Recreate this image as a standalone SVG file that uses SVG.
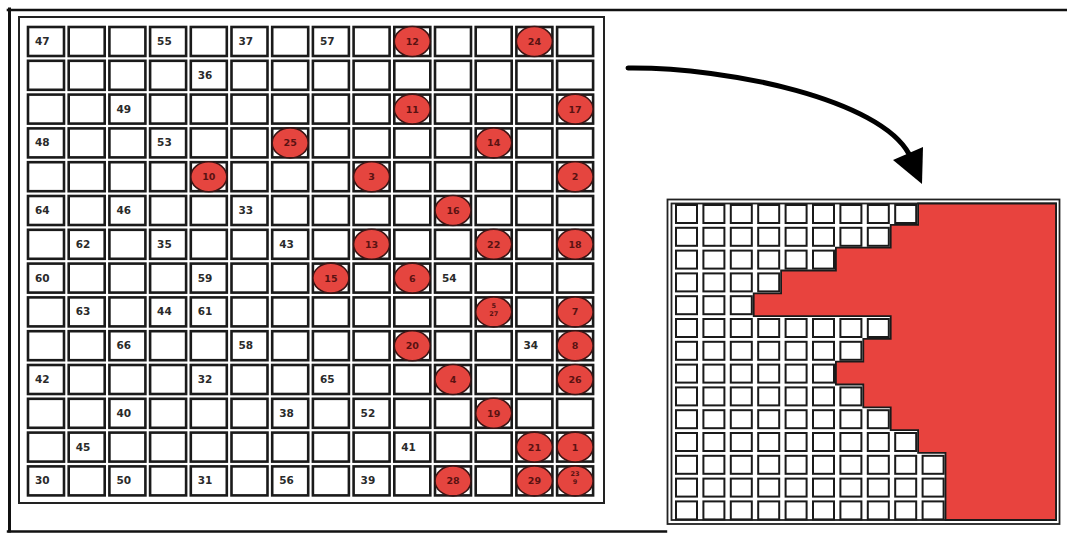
<svg xmlns="http://www.w3.org/2000/svg" xmlns:xlink="http://www.w3.org/1999/xlink" width="1067" height="533" viewBox="0 0 1067 533">
<style>
.frame{fill:none;stroke:#111;stroke-linecap:square}
.cell{fill:#fff;stroke:#1a1a1a;stroke-width:2.6}
.scell{fill:#fff;stroke:#1a1a1a;stroke-width:2}
.dot{fill:#e5453f;stroke:#3a1414;stroke-width:1.6}
.lab{font-family:"DejaVu Sans",sans-serif;font-weight:bold;font-size:10.5px;fill:#2a2a2a}
.dlab{font-family:"DejaVu Sans",sans-serif;font-weight:bold;font-size:9.5px;fill:#5a1212;text-anchor:middle;dominant-baseline:central}
.tiny{font-size:6.5px}
</style>
<defs>
<g id="lrow">
<rect class="cell" x="28" y="0" width="36" height="29"/>
<rect class="cell" x="68.7" y="0" width="36" height="29"/>
<rect class="cell" x="109.4" y="0" width="36" height="29"/>
<rect class="cell" x="150.1" y="0" width="36" height="29"/>
<rect class="cell" x="190.8" y="0" width="36" height="29"/>
<rect class="cell" x="231.5" y="0" width="36" height="29"/>
<rect class="cell" x="272.2" y="0" width="36" height="29"/>
<rect class="cell" x="312.9" y="0" width="36" height="29"/>
<rect class="cell" x="353.6" y="0" width="36" height="29"/>
<rect class="cell" x="394.3" y="0" width="36" height="29"/>
<rect class="cell" x="435" y="0" width="36" height="29"/>
<rect class="cell" x="475.7" y="0" width="36" height="29"/>
<rect class="cell" x="516.4" y="0" width="36" height="29"/>
<rect class="cell" x="557.1" y="0" width="36" height="29"/>
</g>
<g id="rrow">
<rect class="scell" x="676" y="0" width="21" height="18"/>
<rect class="scell" x="703.4" y="0" width="21" height="18"/>
<rect class="scell" x="730.8" y="0" width="21" height="18"/>
<rect class="scell" x="758.2" y="0" width="21" height="18"/>
<rect class="scell" x="785.6" y="0" width="21" height="18"/>
<rect class="scell" x="813" y="0" width="21" height="18"/>
<rect class="scell" x="840.4" y="0" width="21" height="18"/>
<rect class="scell" x="867.8" y="0" width="21" height="18"/>
<rect class="scell" x="895.2" y="0" width="21" height="18"/>
<rect class="scell" x="922.6" y="0" width="21" height="18"/>
</g>
<ellipse id="dotshape" class="dot" cx="0" cy="0" rx="18" ry="15"/>
</defs>

<g id="outer-frame">
<path class="frame" d="M8,10 H1067" stroke-width="2.6"/>
<path class="frame" d="M9.5,9 V531" stroke-width="3"/>
<path class="frame" d="M8,531.5 H666" stroke-width="2.4"/>
</g>

<g id="left-panel">
<rect x="19" y="17" width="585" height="486" fill="none" stroke="#222" stroke-width="2"/>
<use xlink:href="#lrow" y="27"/>
<use xlink:href="#lrow" y="60.8"/>
<use xlink:href="#lrow" y="94.6"/>
<use xlink:href="#lrow" y="128.4"/>
<use xlink:href="#lrow" y="162.2"/>
<use xlink:href="#lrow" y="196"/>
<use xlink:href="#lrow" y="229.8"/>
<use xlink:href="#lrow" y="263.6"/>
<use xlink:href="#lrow" y="297.4"/>
<use xlink:href="#lrow" y="331.2"/>
<use xlink:href="#lrow" y="365"/>
<use xlink:href="#lrow" y="398.8"/>
<use xlink:href="#lrow" y="432.6"/>
<use xlink:href="#lrow" y="466.4"/>
</g>

<g id="cell-labels" class="lab">
<text x="35" y="45">47</text><text x="157.1" y="45">55</text><text x="238.5" y="45">37</text><text x="319.9" y="45">57</text>
<text x="197.8" y="78.8">36</text>
<text x="116.4" y="112.6">49</text>
<text x="35" y="146.4">48</text><text x="157.1" y="146.4">53</text>
<text x="35" y="214">64</text><text x="116.4" y="214">46</text><text x="238.5" y="214">33</text>
<text x="75.7" y="247.8">62</text><text x="157.1" y="247.8">35</text><text x="279.2" y="247.8">43</text>
<text x="35" y="281.6">60</text><text x="197.8" y="281.6">59</text><text x="442" y="281.6">54</text>
<text x="75.7" y="315.4">63</text><text x="157.1" y="315.4">44</text><text x="197.8" y="315.4">61</text>
<text x="116.4" y="349.2">66</text><text x="238.5" y="349.2">58</text><text x="523.4" y="349.2">34</text>
<text x="35" y="383">42</text><text x="197.8" y="383">32</text><text x="319.9" y="383">65</text>
<text x="116.4" y="416.8">40</text><text x="279.2" y="416.8">38</text><text x="360.6" y="416.8">52</text>
<text x="75.7" y="450.6">45</text><text x="401.3" y="450.6">41</text>
<text x="35" y="484.4">30</text><text x="116.4" y="484.4">50</text><text x="197.8" y="484.4">31</text><text x="279.2" y="484.4">56</text><text x="360.6" y="484.4">39</text>
</g>

<g id="markers">
<g id="m12"><use xlink:href="#dotshape" x="412.3" y="41.5"/><text class="dlab" x="412.3" y="41.5">12</text></g>
<g id="m24"><use xlink:href="#dotshape" x="534.4" y="41.5"/><text class="dlab" x="534.4" y="41.5">24</text></g>
<g id="m11"><use xlink:href="#dotshape" x="412.3" y="109.1"/><text class="dlab" x="412.3" y="109.1">11</text></g>
<g id="m17"><use xlink:href="#dotshape" x="575.1" y="109.1"/><text class="dlab" x="575.1" y="109.1">17</text></g>
<g id="m25"><use xlink:href="#dotshape" x="290.2" y="142.9"/><text class="dlab" x="290.2" y="142.9">25</text></g>
<g id="m14"><use xlink:href="#dotshape" x="493.7" y="142.9"/><text class="dlab" x="493.7" y="142.9">14</text></g>
<g id="m10"><use xlink:href="#dotshape" x="208.8" y="176.7"/><text class="dlab" x="208.8" y="176.7">10</text></g>
<g id="m3"><use xlink:href="#dotshape" x="371.6" y="176.7"/><text class="dlab" x="371.6" y="176.7">3</text></g>
<g id="m2"><use xlink:href="#dotshape" x="575.1" y="176.7"/><text class="dlab" x="575.1" y="176.7">2</text></g>
<g id="m16"><use xlink:href="#dotshape" x="453" y="210.5"/><text class="dlab" x="453" y="210.5">16</text></g>
<g id="m13"><use xlink:href="#dotshape" x="371.6" y="244.3"/><text class="dlab" x="371.6" y="244.3">13</text></g>
<g id="m22"><use xlink:href="#dotshape" x="493.7" y="244.3"/><text class="dlab" x="493.7" y="244.3">22</text></g>
<g id="m18"><use xlink:href="#dotshape" x="575.1" y="244.3"/><text class="dlab" x="575.1" y="244.3">18</text></g>
<g id="m15"><use xlink:href="#dotshape" x="330.9" y="278.1"/><text class="dlab" x="330.9" y="278.1">15</text></g>
<g id="m6"><use xlink:href="#dotshape" x="412.3" y="278.1"/><text class="dlab" x="412.3" y="278.1">6</text></g>
<g id="m5-27"><use xlink:href="#dotshape" x="493.7" y="311.9"/><text class="dlab tiny" x="493.7" y="305.5">5</text><text class="dlab tiny" x="493.7" y="313.5">27</text></g>
<g id="m7"><use xlink:href="#dotshape" x="575.1" y="311.9"/><text class="dlab" x="575.1" y="311.9">7</text></g>
<g id="m20"><use xlink:href="#dotshape" x="412.3" y="345.7"/><text class="dlab" x="412.3" y="345.7">20</text></g>
<g id="m8"><use xlink:href="#dotshape" x="575.1" y="345.7"/><text class="dlab" x="575.1" y="345.7">8</text></g>
<g id="m4"><use xlink:href="#dotshape" x="453" y="379.5"/><text class="dlab" x="453" y="379.5">4</text></g>
<g id="m26"><use xlink:href="#dotshape" x="575.1" y="379.5"/><text class="dlab" x="575.1" y="379.5">26</text></g>
<g id="m19"><use xlink:href="#dotshape" x="493.7" y="413.3"/><text class="dlab" x="493.7" y="413.3">19</text></g>
<g id="m21"><use xlink:href="#dotshape" x="534.4" y="447.1"/><text class="dlab" x="534.4" y="447.1">21</text></g>
<g id="m1"><use xlink:href="#dotshape" x="575.1" y="447.1"/><text class="dlab" x="575.1" y="447.1">1</text></g>
<g id="m28"><use xlink:href="#dotshape" x="453" y="480.9"/><text class="dlab" x="453" y="480.9">28</text></g>
<g id="m29"><use xlink:href="#dotshape" x="534.4" y="480.9"/><text class="dlab" x="534.4" y="480.9">29</text></g>
<g id="m23-9"><use xlink:href="#dotshape" x="575.1" y="480.9"/><text class="dlab tiny" x="575.1" y="473.5">23</text><text class="dlab tiny" x="575.1" y="482">9</text></g>
</g>

<g id="right-panel">
<rect x="667.5" y="199.5" width="392" height="324.5" fill="#fff" stroke="#222" stroke-width="1.8"/>
<rect x="671.5" y="203.5" width="384.5" height="316.5" fill="none" stroke="#222" stroke-width="1.8"/>
<use xlink:href="#rrow" y="205"/>
<use xlink:href="#rrow" y="227.8"/>
<use xlink:href="#rrow" y="250.6"/>
<use xlink:href="#rrow" y="273.4"/>
<use xlink:href="#rrow" y="296.2"/>
<use xlink:href="#rrow" y="319"/>
<use xlink:href="#rrow" y="341.8"/>
<use xlink:href="#rrow" y="364.6"/>
<use xlink:href="#rrow" y="387.4"/>
<use xlink:href="#rrow" y="410.2"/>
<use xlink:href="#rrow" y="433"/>
<use xlink:href="#rrow" y="455.8"/>
<use xlink:href="#rrow" y="478.6"/>
<use xlink:href="#rrow" y="501.4"/>
<polygon fill="#e8433e" stroke="#1a1a1a" stroke-width="1.8" stroke-linejoin="miter" points="1056,203.5 918.1,203.5 918.1,224.9 890.7,224.9 890.7,247.7 835.9,247.7 835.9,270.5 781.1,270.5 781.1,293.3 753.7,293.3 753.7,316.1 890.7,316.1 890.7,338.9 863.3,338.9 863.3,361.7 835.9,361.7 835.9,384.5 863.3,384.5 863.3,407.3 890.7,407.3 890.7,430.1 918.1,430.1 918.1,452.9 945.5,452.9 945.5,520 1056,520"/>
</g>

<g id="connectors">
<path d="M628,68 C730,67 880,100 909,154" fill="none" stroke="#000" stroke-width="5" stroke-linecap="round"/>
<polygon points="893,160 923,147 922,184" fill="#000"/>
</g>
</svg>
